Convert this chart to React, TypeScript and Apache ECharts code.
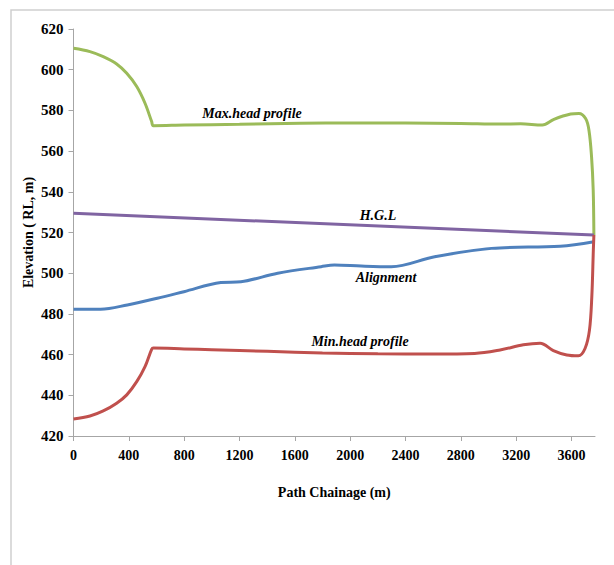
import React, { useEffect, useRef } from "react";
import * as echarts from "echarts";

// Chainage (m) and elevation (RL, m) for each profile
const maxHeadX = [0, 119, 215, 312, 385, 457, 517, 565, 577, 800, 1200, 1643, 2000, 2400, 2800, 3087, 3232, 3389, 3473, 3594, 3654, 3702, 3726, 3745, 3757, 3762];
const maxHeadY = [610.5, 608.9, 606.4, 602.8, 598.2, 591.7, 583.5, 574.5, 572.5, 572.8, 573.2, 573.7, 573.8, 573.8, 573.6, 573.3, 573.4, 572.8, 575.6, 578.2, 578.5, 576, 570.4, 557.3, 540.9, 518.8];

const hglX = [0, 3762];
const hglY = [529.4, 518.8];

const alignX = [0, 196, 389, 606, 798, 1065, 1210, 1476, 1790, 1886, 2080, 2297, 2611, 3022, 3518, 3762];
const alignY = [482.3, 482.3, 484.4, 487.7, 490.9, 495.4, 495.8, 500, 503.2, 504, 503.5, 503.2, 508.1, 512.2, 513.3, 515.5];

const minHeadX = [0, 119, 215, 312, 385, 457, 517, 565, 577, 800, 1000, 1400, 1800, 2200, 2600, 2900, 3084, 3252, 3373, 3469, 3566, 3650, 3698, 3730, 3747, 3758, 3762];
const minHeadY = [428.4, 429.8, 432.3, 436.1, 440.2, 446.7, 454.1, 462.6, 463.2, 462.8, 462.4, 461.6, 460.8, 460.4, 460.3, 460.6, 462.3, 464.8, 465.6, 462, 459.8, 459.4, 463, 472, 488.5, 511.4, 518.8];

const xTicks = [0, 400, 800, 1200, 1600, 2000, 2400, 2800, 3200, 3600];
const xMax = 3770;
const yMin = 420;
const yMax = 620;
const yStep = 20;

const pairs = (xs: number[], ys: number[]) => xs.map((x, i) => [x, ys[i]]);

const FONT = '"Liberation Serif", "Times New Roman", serif';

export default function App() {
  const ref = useRef<HTMLDivElement>(null);

  useEffect(() => {
    if (!ref.current) return;
    const chart = echarts.init(ref.current, undefined, { renderer: "svg" });

    const line = (name: string, color: string, xs: number[], ys: number[]) => ({
      name,
      type: "line",
      data: pairs(xs, ys),
      showSymbol: false,
      smooth: 0.35,
      lineStyle: { color, width: 3 },
      itemStyle: { color },
    });

    const note = (text: string, x: number, y: number) => ({
      type: "text",
      x,
      y,
      style: {
        text,
        font: `italic bold 14px ${FONT}`,
        fill: "#000",
        align: "center",
        verticalAlign: "middle",
      },
    });

    chart.setOption({
      animation: false,
      backgroundColor: "#fff",
      grid: { left: 73.5, top: 29, right: 19, bottom: 129 },
      xAxis: {
        type: "value",
        min: 0,
        max: xMax,
        interval: 400,
        name: "Path Chainage (m)",
        nameLocation: "middle",
        nameGap: 49,
        nameMoveOverlap: false,
        nameTextStyle: { fontFamily: FONT, fontWeight: "bold", fontSize: 14, color: "#000" },
        axisLine: { show: true, lineStyle: { color: "#A6A6A6", width: 1 } },
        axisTick: { show: true, length: 5, customValues: xTicks, lineStyle: { color: "#A6A6A6" } },
        axisLabel: {
          customValues: xTicks,
          formatter: (v: number) => String(v),
          margin: 12,
          fontFamily: FONT,
          fontWeight: "bold",
          fontSize: 14,
          color: "#000",
        },
        splitLine: { show: false },
      },
      yAxis: {
        type: "value",
        min: yMin,
        max: yMax,
        interval: yStep,
        name: "Elevation ( RL, m)",
        nameLocation: "middle",
        nameGap: 38,
        nameMoveOverlap: false,
        nameTextStyle: { fontFamily: FONT, fontWeight: "bold", fontSize: 14, color: "#000" },
        axisLine: { show: true, lineStyle: { color: "#A6A6A6", width: 1 } },
        axisTick: { show: true, length: 5, lineStyle: { color: "#A6A6A6" } },
        axisLabel: {
          margin: 10,
          fontFamily: FONT,
          fontWeight: "bold",
          fontSize: 15,
          color: "#000",
        },
        splitLine: { show: false },
      },
      series: [
        line("Max.head profile", "#9BBB59", maxHeadX, maxHeadY),
        line("H.G.L", "#8064A2", hglX, hglY),
        line("Alignment", "#4F81BD", alignX, alignY),
        line("Min.head profile", "#C0504D", minHeadX, minHeadY),
      ],
      graphic: [
        {
          type: "rect",
          shape: { x: 11, y: 10, width: 700, height: 700 },
          style: { fill: "none", stroke: "#CFCFCF", lineWidth: 1.5 },
          silent: true,
        },
        note("Max.head profile", 252, 113),
        note("H.G.L", 378, 215),
        note("Alignment", 386, 277),
        note("Min.head profile", 360, 341),
      ],
    });

    return () => chart.dispose();
  }, []);

  return (
    <div
      ref={ref}
      style={{ position: "absolute", left: 0, top: 0, width: 614, height: 565 }}
    />
  );
}
